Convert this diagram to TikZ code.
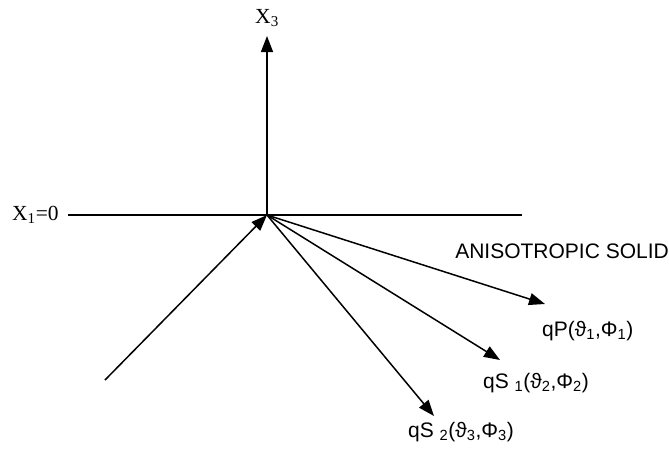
\documentclass[tikz,border=0pt]{standalone}
\usepackage{fontspec}
\setmainfont{Liberation Serif}
\newfontfamily\arial{Liberation Sans}
\usetikzlibrary{arrows.meta}
\begin{document}
\begin{tikzpicture}[x=1pt,y=-1pt,
  ln/.style={line width=1.5pt},
  arr/.style={ln,-{Triangle[length=16pt,width=12pt]}},
  sans/.style={font=\arial\fontsize{21}{24}\selectfont, inner sep=0pt},
  serif/.style={font=\fontsize{21.5}{24}\selectfont, inner sep=0pt}]
\useasboundingbox (0,0) rectangle (669,451);
\coordinate (O) at (267,215);
\coordinate (L) at (68,215);
\coordinate (R) at (522,215);
\coordinate (T) at (267,36);
\coordinate (I) at (105,380);
\coordinate (P) at (545,304);
\coordinate (S1) at (500,360);
\coordinate (S2) at (434,416);
\draw[ln] (L) -- (R);
\draw[arr] (O) -- (T);
\draw[arr] (I) -- (O);
\draw[arr] (O) -- (P);
\draw[arr] (O) -- (S1);
\draw[arr] (O) -- (S2);
\node[serif] (x3) at (267,18) {X\textsubscript{3}};
\node[serif, anchor=west] (x1) at (12,215) {X\textsubscript{1}=0};
\node[sans, anchor=east] (an) at (669,251) {ANISOTROPIC SOLID};
\node[sans, anchor=west] (lp) at (542,331) {qP(ϑ\textsubscript{1},Φ\textsubscript{1})};
\node[sans, anchor=west] (l1) at (483,383) {qS \textsubscript{1}(ϑ\textsubscript{2},Φ\textsubscript{2})};
\node[sans, anchor=west] (l2) at (408,432) {qS \textsubscript{2}(ϑ\textsubscript{3},Φ\textsubscript{3})};
\end{tikzpicture}
\end{document}
